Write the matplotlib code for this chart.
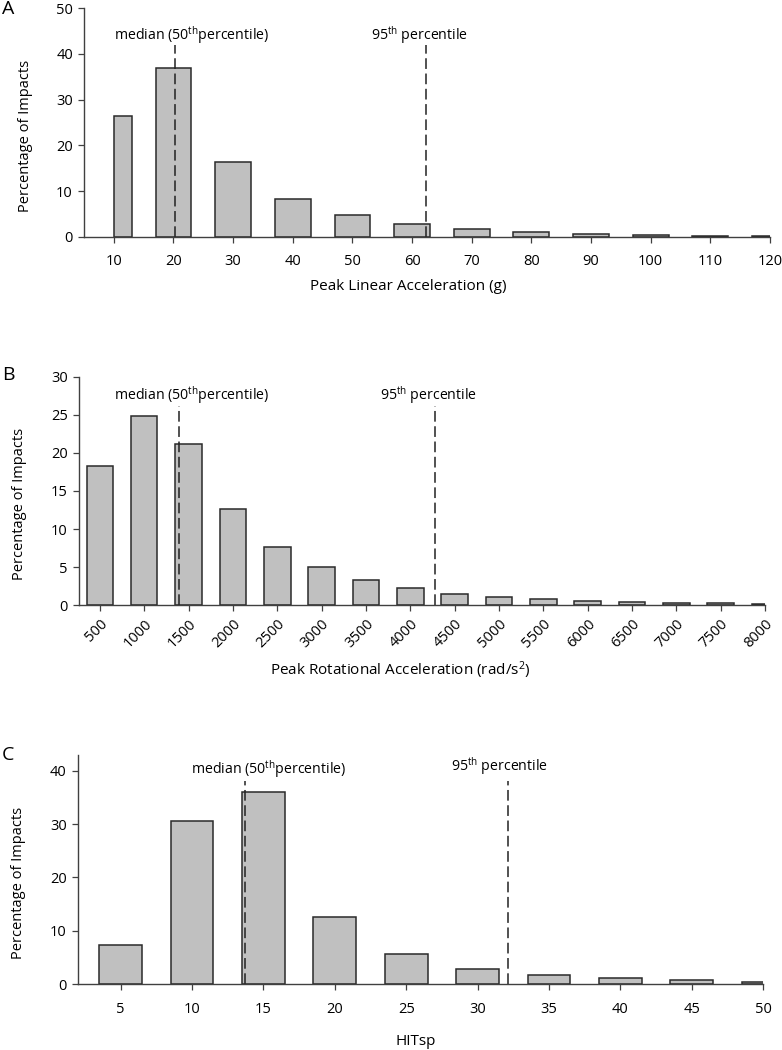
import numpy as np
import matplotlib
matplotlib.use('Agg')
import matplotlib.pyplot as plt

plt.rcParams['font.family'] = ['Open Sans', 'DejaVu Sans']
plt.rcParams['mathtext.fontset'] = 'custom'
plt.rcParams['mathtext.rm'] = 'Open Sans'
plt.rcParams['mathtext.it'] = 'Open Sans:italic'

# 数据: 各直方图的分箱中心与百分比
lin_x = [10, 20, 30, 40, 50, 60, 70, 80, 90, 100, 110, 120]
lin_pct = [26.5, 36.8, 16.4, 8.4, 4.7, 2.8, 1.7, 1.0, 0.65, 0.4, 0.25, 0.15]
lin_median = 20.3
lin_p95 = 62.3

rot_x = [500, 1000, 1500, 2000, 2500, 3000, 3500, 4000, 4500, 5000,
         5500, 6000, 6500, 7000, 7500, 8000]
rot_pct = [18.3, 24.8, 21.2, 12.7, 7.7, 5.0, 3.3, 2.3, 1.5, 1.1,
           0.8, 0.52, 0.43, 0.34, 0.26, 0.17]
rot_median = 1390
rot_p95 = 4280

hit_x = [5, 10, 15, 20, 25, 30, 35, 40, 45, 50]
hit_pct = [7.3, 30.6, 36.1, 12.6, 5.6, 2.9, 1.6, 1.06, 0.69, 0.44]
hit_median = 13.7
hit_p95 = 32.1

W, H = 782, 1050
fig = plt.figure(figsize=(W / 100, H / 100), dpi=100)

bar_fc = '#c0c0c0'
bar_ec = '#2a2a2a'
line_c = '#222222'
tick_fs = 10.5
xlab_fs = 11
ylab_fs = 10.5
note_fs = 10.2

def px_axes(l, r, top, bot):
    return fig.add_axes([l / W, 1 - bot / H, (r - l) / W, (bot - top) / H])

def style(ax):
    for s in ['top', 'right']:
        ax.spines[s].set_visible(False)
    for s in ['left', 'bottom']:
        ax.spines[s].set_color('#404040')
        ax.spines[s].set_linewidth(1.0)
    ax.tick_params(direction='out', length=4, width=0.9, color='#404040',
                   labelsize=tick_fs, pad=4)

def note(ax, x, y, txt):
    ax.text(x, y, txt, ha='center', va='center', fontsize=note_fs)

# A
axA = px_axes(84, 770, 8, 237)
style(axA)
w = 6
bars = axA.bar(lin_x, lin_pct, width=w, color=bar_fc, edgecolor=bar_ec, linewidth=1.1)
# 第一个柱只画右半部分
bars[0].set_x(lin_x[0])
bars[0].set_width(w / 2)
axA.set_xlim(5, 120)
axA.set_ylim(0, 50)
axA.set_xticks(lin_x)
axA.set_yticks([0, 10, 20, 30, 40, 50])
axA.tick_params(axis='x', pad=8)
axA.vlines([lin_median, lin_p95], 0, 42, colors=line_c, linestyles=(0, (7, 3)), linewidth=1.1)
note(axA, 23.1, 44.2, r'median (50$^{\rm th}$percentile)')
note(axA, 61.3, 44.2, r'95$^{\rm th}$ percentile')
axA.text(0.472, -0.218, 'Peak Linear Acceleration (g)', transform=axA.transAxes,
         ha='center', va='center', fontsize=xlab_fs)
axA.text(-0.086, 0.44, 'Percentage of Impacts', transform=axA.transAxes,
         ha='center', va='center', rotation=90, fontsize=ylab_fs)

# B
axB = px_axes(79, 765, 376.7, 605.3)
style(axB)
axB.bar(rot_x, rot_pct, width=300, color=bar_fc, edgecolor=bar_ec, linewidth=1.1)
axB.set_xlim(265, 8000)
axB.set_ylim(0, 30)
axB.set_xticks(rot_x)
axB.set_xticklabels([str(v) for v in rot_x], rotation=45, ha='right',
                    rotation_mode='anchor')
axB.set_yticks([0, 5, 10, 15, 20, 25, 30])
axB.vlines([rot_median, rot_p95], 0, 26.1, colors=line_c, linestyles=(0, (7, 3)), linewidth=1.1)
note(axB, 1541, 27.6, r'median (50$^{\rm th}$percentile)')
note(axB, 4205, 27.6, r'95$^{\rm th}$ percentile')
axB.text(0.468, -0.283, r'Peak Rotational Acceleration (rad/s$^{2}$)', transform=axB.transAxes,
         ha='center', va='center', fontsize=xlab_fs)
axB.text(-0.087, 0.443, 'Percentage of Impacts', transform=axB.transAxes,
         ha='center', va='center', rotation=90, fontsize=ylab_fs)

# C
axC = px_axes(77.7, 763.3, 755, 984)
style(axC)
axC.bar(hit_x, hit_pct, width=3, color=bar_fc, edgecolor=bar_ec, linewidth=1.1)
axC.set_xlim(2, 50)
axC.set_ylim(0, 43)
axC.set_xticks(hit_x)
axC.set_yticks([0, 10, 20, 30, 40])
axC.tick_params(axis='x', pad=9)
axC.vlines([hit_median, hit_p95], 0, 38.1, colors=line_c, linestyles=(0, (7, 3)), linewidth=1.1)
note(axC, 15.4, 40.3, r'median (50$^{\rm th}$percentile)')
note(axC, 31.5, 41.0, r'95$^{\rm th}$ percentile')
axC.text(0.493, -0.252, 'HITsp', transform=axC.transAxes,
         ha='center', va='center', fontsize=xlab_fs)
axC.text(-0.086, 0.443, 'Percentage of Impacts', transform=axC.transAxes,
         ha='center', va='center', rotation=90, fontsize=ylab_fs)

# 面板字母
for letter, yc in [('A', 9), ('B', 375), ('C', 755)]:
    fig.text(2 / W, 1 - yc / H, letter, ha='left', va='center', fontsize=14)

fig.savefig('out.png', dpi=100)
